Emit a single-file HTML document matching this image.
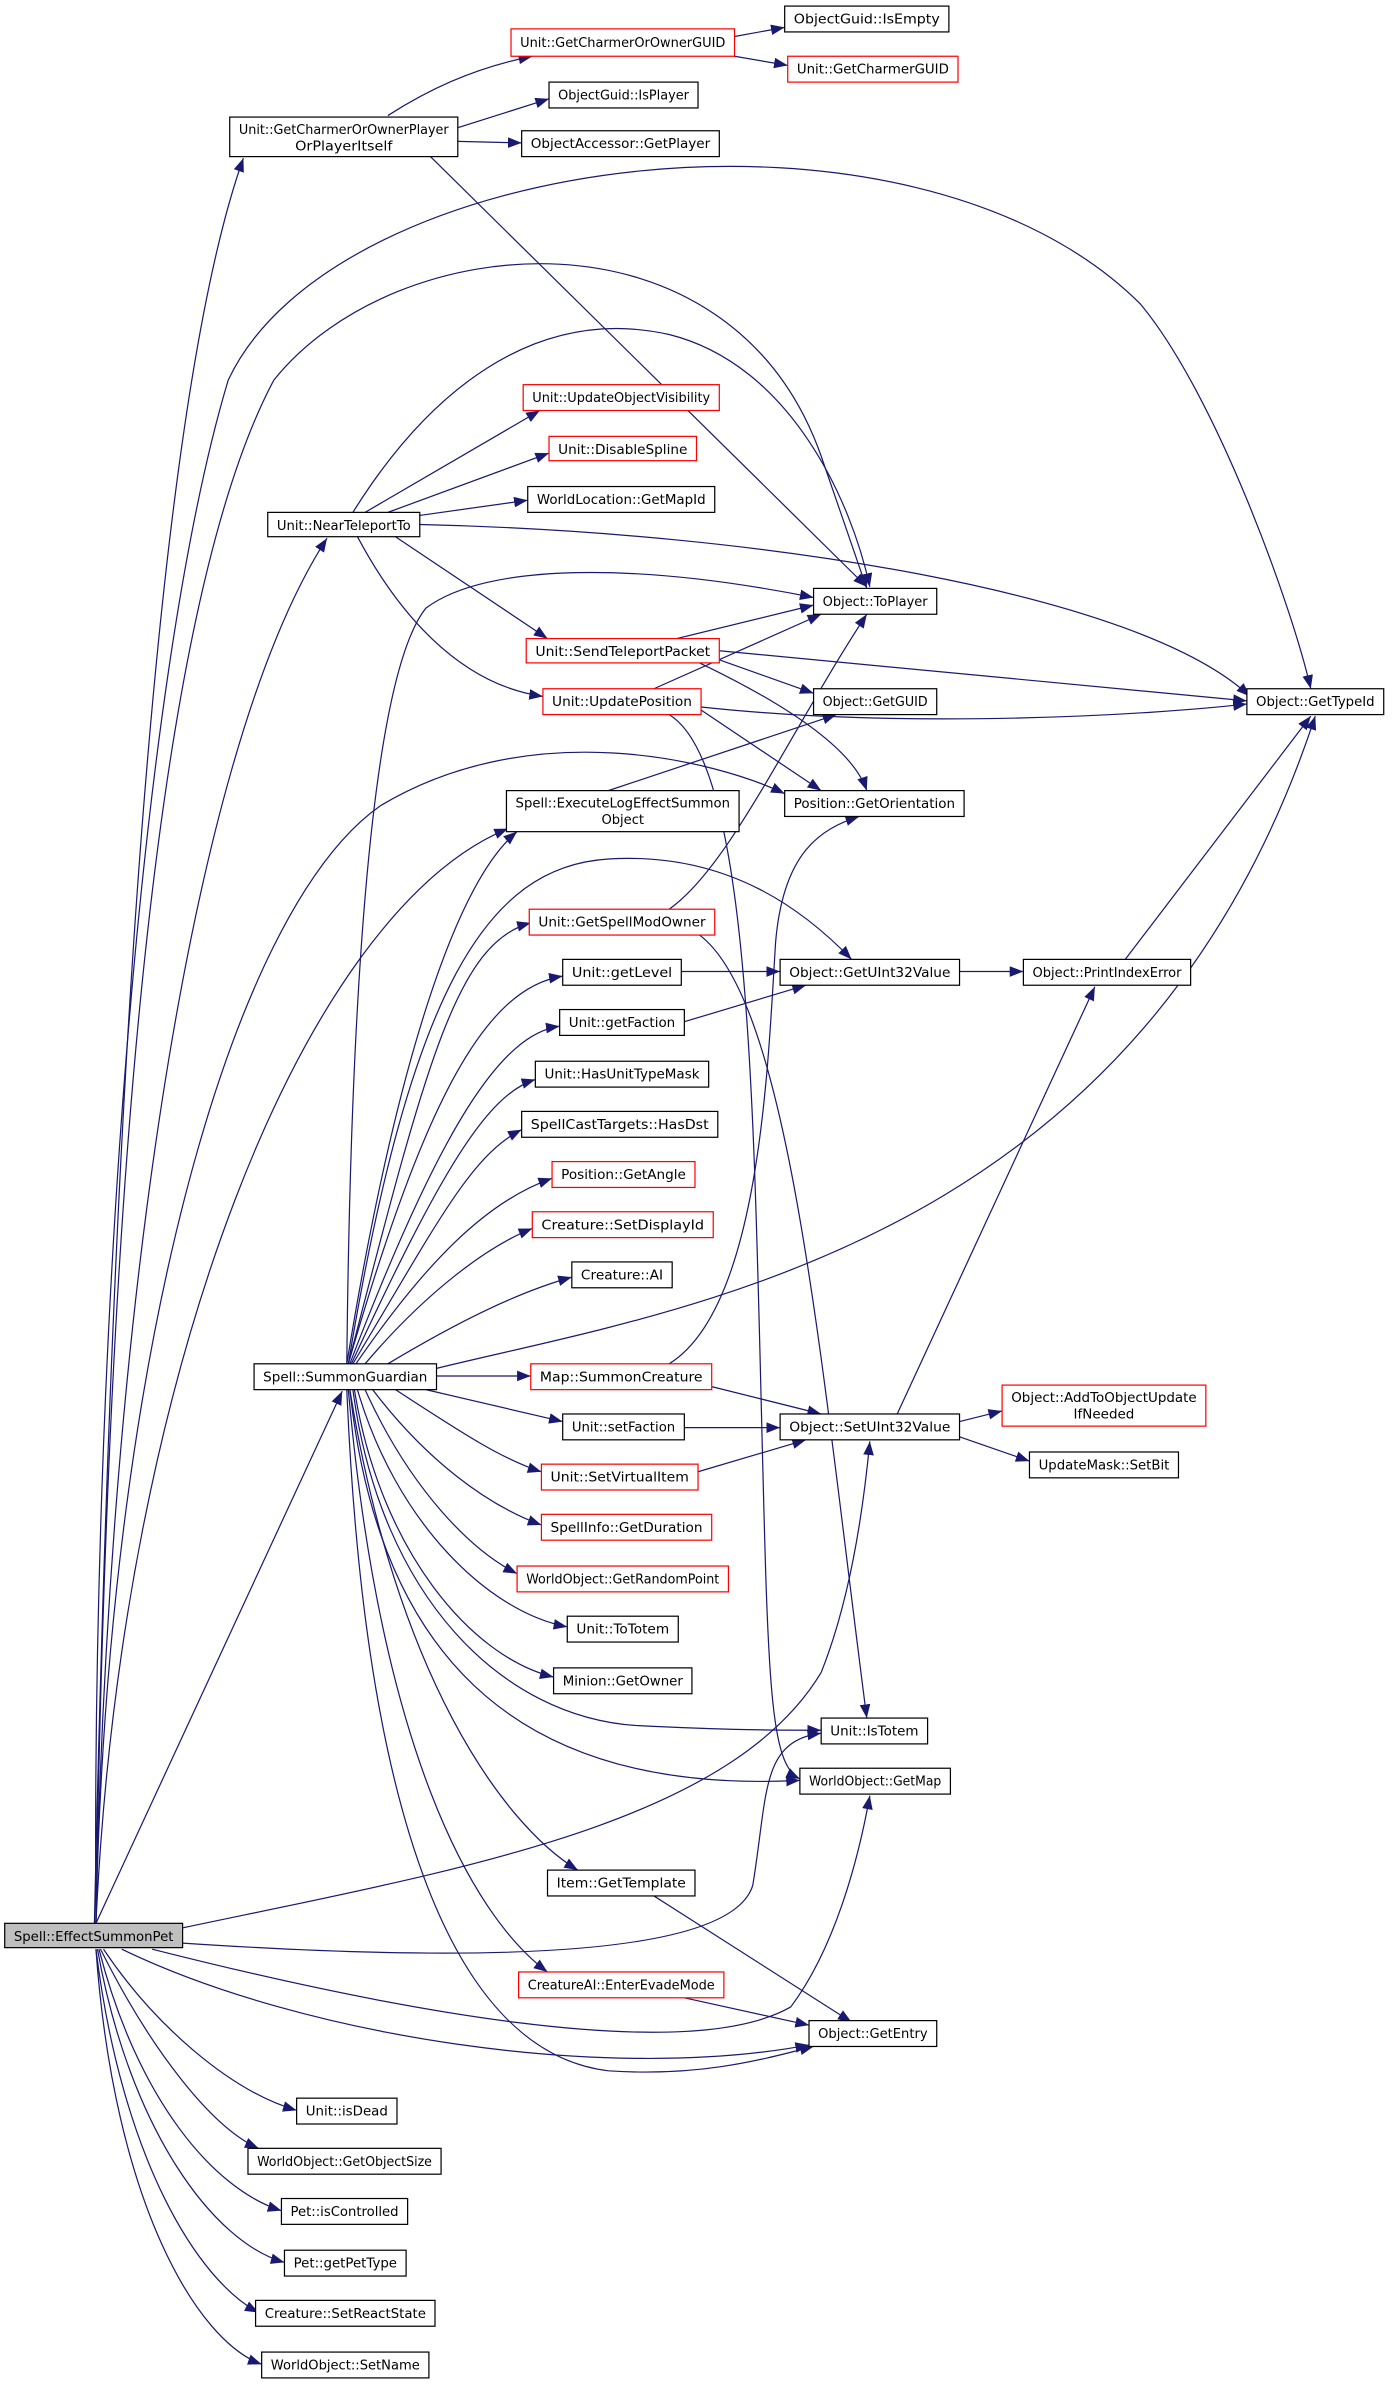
<!DOCTYPE html>
<html><head><meta charset="utf-8"><style>
html,body{margin:0;padding:0;background:#fff;}
svg{display:block;}
text{font-family:"DejaVu Sans","Liberation Sans",sans-serif;font-size:8.5px;fill:#000;}
.n{fill:#fff;stroke:#000;stroke-width:0.8;}
.r{fill:#fff;stroke:#ff0000;stroke-width:0.8;}
.e{fill:none;stroke:#191970;stroke-width:0.8;marker-end:url(#a);}
</style></head><body>
<svg width="1393" height="2384" viewBox="0 0 916 1568" xmlns="http://www.w3.org/2000/svg">
<defs><marker id="a" markerUnits="userSpaceOnUse" markerWidth="10" markerHeight="8" refX="9" refY="3.5" orient="auto"><path d="M0,0 L9,3.5 L0,7 z" fill="#191970"/></marker></defs>
<g>
<path class="e" d="M62,1265 C70,900 90,300 160,104"/>
<path class="e" d="M63,1265 C60,900 90,450 150,250 C220,100 600,50 750,200 C800,260 850,400 862,453"/>
<path class="e" d="M63,1265 C70,800 100,400 180,250 C260,150 480,130 540,300 L570,387"/>
<path class="e" d="M63,1265 C70,900 120,500 215,354"/>
<path class="e" d="M63,1265 C70,900 150,600 250,530 C350,470 470,500 516,522"/>
<path class="e" d="M63,1265 C80,900 200,600 334,545"/>
<path class="e" d="M63,1265 L225,915"/>
<path class="e" d="M120,1268 C300,1230 480,1200 540,1100 C560,1050 568,990 572,948"/>
<path class="e" d="M120,1278 C300,1290 480,1290 495,1240 C505,1180 500,1145 540,1140"/>
<path class="e" d="M100,1282 C250,1320 450,1360 520,1320 C550,1280 565,1220 572,1181"/>
<path class="e" d="M80,1282 C200,1340 400,1370 532,1345"/>
<path class="e" d="M68,1282 C100,1330 150,1375 195,1388"/>
<path class="e" d="M66,1282 C100,1350 140,1400 170,1413"/>
<path class="e" d="M65,1282 C90,1380 140,1440 185,1454"/>
<path class="e" d="M64,1282 C85,1400 140,1475 187,1488"/>
<path class="e" d="M63,1282 C80,1420 130,1500 170,1521"/>
<path class="e" d="M63,1282 C75,1450 130,1540 172,1555"/>
<path class="e" d="M255,76 C280,60 310,45 350,37"/>
<path class="e" d="M301,84 L361,65"/>
<path class="e" d="M301,93 L343,94"/>
<path class="e" d="M283,103 L570,386"/>
<path class="e" d="M483,24 L516,18"/>
<path class="e" d="M483,37 L518,43"/>
<path class="e" d="M240,337 L355,270"/>
<path class="e" d="M255,337 L361,298"/>
<path class="e" d="M276,339 L347,329"/>
<path class="e" d="M232,337 C280,260 350,200 440,220 C520,240 560,330 572,386"/>
<path class="e" d="M276,345 C500,350 750,390 822,458"/>
<path class="e" d="M260,353 L360,420"/>
<path class="e" d="M235,353 C260,400 300,450 357,458"/>
<path class="e" d="M445,420 L535,398"/>
<path class="e" d="M473,428 L820,461"/>
<path class="e" d="M473,434 L535,456"/>
<path class="e" d="M460,436 C510,460 560,490 570,520"/>
<path class="e" d="M430,453 L540,404"/>
<path class="e" d="M461,465 C600,480 760,470 820,463"/>
<path class="e" d="M461,467 L540,520"/>
<path class="e" d="M440,470 C490,500 495,700 500,900 C505,1100 505,1160 526,1170"/>
<path class="e" d="M400,520 L550,470"/>
<path class="e" d="M440,598 C480,570 520,480 570,404"/>
<path class="e" d="M460,615 C520,660 540,900 570,1130"/>
<path class="e" d="M448,639 L513,639"/>
<path class="e" d="M450,672 L530,648"/>
<path class="e" d="M631,639 L673,639"/>
<path class="e" d="M740,631 L862,471"/>
<path class="e" d="M590,930 L720,649"/>
<path class="e" d="M631,935 L659,928"/>
<path class="e" d="M631,945 L677,961"/>
<path class="e" d="M468,912 L540,930"/>
<path class="e" d="M440,897 C500,860 505,700 510,620 C515,560 540,545 565,537"/>
<path class="e" d="M450,939 L513,939"/>
<path class="e" d="M459,968 L530,947"/>
<path class="e" d="M430,1247 L560,1330"/>
<path class="e" d="M450,1314 L532,1332"/>
<path class="e" d="M228,897 C230,700 240,450 280,400 C320,370 420,370 535,393"/>
<path class="e" d="M287,900 C450,860 750,820 865,471"/>
<path class="e" d="M228,897 C260,700 300,580 340,547"/>
<path class="e" d="M229,897 C280,700 300,620 349,607"/>
<path class="e" d="M229,897 C270,650 320,570 400,565 C480,560 530,600 560,631"/>
<path class="e" d="M229,897 C280,720 320,650 370,642"/>
<path class="e" d="M230,897 C290,740 330,680 368,675"/>
<path class="e" d="M231,897 C290,770 320,720 352,710"/>
<path class="e" d="M232,897 C290,800 310,760 343,743"/>
<path class="e" d="M234,897 C280,830 320,790 363,775"/>
<path class="e" d="M240,897 C280,850 320,820 350,808"/>
<path class="e" d="M255,897 C300,870 340,850 376,840"/>
<path class="e" d="M287,905 L349,905"/>
<path class="e" d="M280,914 L370,935"/>
<path class="e" d="M260,914 C300,940 330,960 356,968"/>
<path class="e" d="M245,914 C280,960 320,990 356,1003"/>
<path class="e" d="M240,914 C270,980 310,1020 340,1035"/>
<path class="e" d="M235,914 C260,1000 320,1060 373,1070"/>
<path class="e" d="M233,914 C250,1020 310,1090 364,1103"/>
<path class="e" d="M232,914 C250,1050 330,1130 420,1135 C480,1138 510,1138 540,1138"/>
<path class="e" d="M230,914 C250,1100 350,1180 526,1171"/>
<path class="e" d="M230,914 C260,1100 330,1200 380,1230"/>
<path class="e" d="M229,914 C250,1150 310,1260 360,1297"/>
<path class="e" d="M228,914 C240,1200 300,1350 400,1362 C460,1366 500,1355 535,1346"/>
</g>
<g text-anchor="middle">
<rect x="3" y="1265" width="117" height="16" fill="#bfbfbf" stroke="#000" stroke-width="0.8"/><text x="61.5" y="1276.5" textLength="105" lengthAdjust="spacingAndGlyphs">Spell::EffectSummonPet</text>
<rect class="n" x="151" y="77" width="150" height="26"/><text x="226" y="88" textLength="138" lengthAdjust="spacingAndGlyphs">Unit::GetCharmerOrOwnerPlayer</text><text x="226" y="99" textLength="64" lengthAdjust="spacingAndGlyphs">OrPlayerItself</text>
<rect class="r" x="336" y="19" width="147" height="18"/><text x="409.5" y="31" textLength="135" lengthAdjust="spacingAndGlyphs">Unit::GetCharmerOrOwnerGUID</text>
<rect class="n" x="516" y="4" width="108" height="17"/><text x="570" y="15.5" textLength="96" lengthAdjust="spacingAndGlyphs">ObjectGuid::IsEmpty</text>
<rect class="r" x="518" y="37" width="112" height="17"/><text x="574" y="48.5" textLength="100" lengthAdjust="spacingAndGlyphs">Unit::GetCharmerGUID</text>
<rect class="n" x="361" y="54" width="98" height="17"/><text x="410" y="65.5" textLength="86" lengthAdjust="spacingAndGlyphs">ObjectGuid::IsPlayer</text>
<rect class="n" x="343" y="86" width="130" height="17"/><text x="408" y="97.5" textLength="118" lengthAdjust="spacingAndGlyphs">ObjectAccessor::GetPlayer</text>
<rect class="n" x="176" y="337" width="100" height="16"/><text x="226" y="348.5" textLength="88" lengthAdjust="spacingAndGlyphs">Unit::NearTeleportTo</text>
<rect class="r" x="344" y="253" width="129" height="17"/><text x="408.5" y="264.5" textLength="117" lengthAdjust="spacingAndGlyphs">Unit::UpdateObjectVisibility</text>
<rect class="r" x="361" y="287" width="97" height="16"/><text x="409.5" y="298.5" textLength="85" lengthAdjust="spacingAndGlyphs">Unit::DisableSpline</text>
<rect class="n" x="347" y="320" width="123" height="17"/><text x="408.5" y="331.5" textLength="111" lengthAdjust="spacingAndGlyphs">WorldLocation::GetMapId</text>
<rect class="n" x="535" y="387" width="81" height="17"/><text x="575.5" y="398.5" textLength="69" lengthAdjust="spacingAndGlyphs">Object::ToPlayer</text>
<rect class="r" x="346" y="420" width="127" height="16"/><text x="409.5" y="431.5" textLength="115" lengthAdjust="spacingAndGlyphs">Unit::SendTeleportPacket</text>
<rect class="n" x="535" y="453" width="81" height="17"/><text x="575.5" y="464.5" textLength="69" lengthAdjust="spacingAndGlyphs">Object::GetGUID</text>
<rect class="r" x="357" y="453" width="104" height="17"/><text x="409" y="464.5" textLength="92" lengthAdjust="spacingAndGlyphs">Unit::UpdatePosition</text>
<rect class="n" x="820" y="453" width="90" height="17"/><text x="865" y="464.5" textLength="78" lengthAdjust="spacingAndGlyphs">Object::GetTypeId</text>
<rect class="n" x="333" y="520" width="153" height="27"/><text x="409.5" y="531" textLength="141" lengthAdjust="spacingAndGlyphs">Spell::ExecuteLogEffectSummon</text><text x="409.5" y="542" textLength="28" lengthAdjust="spacingAndGlyphs">Object</text>
<rect class="n" x="516" y="520" width="118" height="17"/><text x="575" y="531.5" textLength="106" lengthAdjust="spacingAndGlyphs">Position::GetOrientation</text>
<rect class="r" x="348" y="598" width="122" height="17"/><text x="409" y="609.5" textLength="110" lengthAdjust="spacingAndGlyphs">Unit::GetSpellModOwner</text>
<rect class="n" x="370" y="631" width="78" height="17"/><text x="409" y="642.5" textLength="66" lengthAdjust="spacingAndGlyphs">Unit::getLevel</text>
<rect class="n" x="513" y="631" width="118" height="17"/><text x="572" y="642.5" textLength="106" lengthAdjust="spacingAndGlyphs">Object::GetUInt32Value</text>
<rect class="n" x="673" y="631" width="110" height="17"/><text x="728" y="642.5" textLength="98" lengthAdjust="spacingAndGlyphs">Object::PrintIndexError</text>
<rect class="n" x="368" y="664" width="82" height="17"/><text x="409" y="675.5" textLength="70" lengthAdjust="spacingAndGlyphs">Unit::getFaction</text>
<rect class="n" x="352" y="698" width="114" height="17"/><text x="409" y="709.5" textLength="102" lengthAdjust="spacingAndGlyphs">Unit::HasUnitTypeMask</text>
<rect class="n" x="343" y="731" width="129" height="17"/><text x="407.5" y="742.5" textLength="117" lengthAdjust="spacingAndGlyphs">SpellCastTargets::HasDst</text>
<rect class="r" x="363" y="764" width="94" height="17"/><text x="410" y="775.5" textLength="82" lengthAdjust="spacingAndGlyphs">Position::GetAngle</text>
<rect class="r" x="350" y="797" width="119" height="17"/><text x="409.5" y="808.5" textLength="107" lengthAdjust="spacingAndGlyphs">Creature::SetDisplayId</text>
<rect class="n" x="376" y="830" width="66" height="17"/><text x="409" y="841.5" textLength="54" lengthAdjust="spacingAndGlyphs">Creature::AI</text>
<rect class="n" x="167" y="897" width="120" height="17"/><text x="227" y="908.5" textLength="108" lengthAdjust="spacingAndGlyphs">Spell::SummonGuardian</text>
<rect class="r" x="349" y="897" width="119" height="17"/><text x="408.5" y="908.5" textLength="107" lengthAdjust="spacingAndGlyphs">Map::SummonCreature</text>
<rect class="r" x="659" y="911" width="134" height="27"/><text x="726" y="922" textLength="122" lengthAdjust="spacingAndGlyphs">Object::AddToObjectUpdate</text><text x="726" y="933" textLength="40" lengthAdjust="spacingAndGlyphs">IfNeeded</text>
<rect class="n" x="513" y="930" width="118" height="17"/><text x="572" y="941.5" textLength="106" lengthAdjust="spacingAndGlyphs">Object::SetUInt32Value</text>
<rect class="n" x="370" y="930" width="80" height="17"/><text x="410" y="941.5" textLength="68" lengthAdjust="spacingAndGlyphs">Unit::setFaction</text>
<rect class="n" x="677" y="955" width="98" height="17"/><text x="726" y="966.5" textLength="86" lengthAdjust="spacingAndGlyphs">UpdateMask::SetBit</text>
<rect class="r" x="356" y="963" width="103" height="17"/><text x="407.5" y="974.5" textLength="91" lengthAdjust="spacingAndGlyphs">Unit::SetVirtualItem</text>
<rect class="r" x="356" y="996" width="112" height="17"/><text x="412" y="1007.5" textLength="100" lengthAdjust="spacingAndGlyphs">SpellInfo::GetDuration</text>
<rect class="r" x="340" y="1030" width="139" height="17"/><text x="409.5" y="1041.5" textLength="127" lengthAdjust="spacingAndGlyphs">WorldObject::GetRandomPoint</text>
<rect class="n" x="373" y="1063" width="73" height="17"/><text x="409.5" y="1074.5" textLength="61" lengthAdjust="spacingAndGlyphs">Unit::ToTotem</text>
<rect class="n" x="364" y="1097" width="91" height="17"/><text x="409.5" y="1108.5" textLength="79" lengthAdjust="spacingAndGlyphs">Minion::GetOwner</text>
<rect class="n" x="540" y="1130" width="70" height="17"/><text x="575" y="1141.5" textLength="58" lengthAdjust="spacingAndGlyphs">Unit::IsTotem</text>
<rect class="n" x="526" y="1163" width="99" height="17"/><text x="575.5" y="1174.5" textLength="87" lengthAdjust="spacingAndGlyphs">WorldObject::GetMap</text>
<rect class="n" x="360" y="1230" width="97" height="17"/><text x="408.5" y="1241.5" textLength="85" lengthAdjust="spacingAndGlyphs">Item::GetTemplate</text>
<rect class="r" x="341" y="1297" width="135" height="17"/><text x="408.5" y="1308.5" textLength="123" lengthAdjust="spacingAndGlyphs">CreatureAI::EnterEvadeMode</text>
<rect class="n" x="532" y="1329" width="84" height="17"/><text x="574" y="1340.5" textLength="72" lengthAdjust="spacingAndGlyphs">Object::GetEntry</text>
<rect class="n" x="195" y="1380" width="66" height="17"/><text x="228" y="1391.5" textLength="54" lengthAdjust="spacingAndGlyphs">Unit::isDead</text>
<rect class="n" x="163" y="1413" width="127" height="17"/><text x="226.5" y="1424.5" textLength="115" lengthAdjust="spacingAndGlyphs">WorldObject::GetObjectSize</text>
<rect class="n" x="185" y="1446" width="83" height="17"/><text x="226.5" y="1457.5" textLength="71" lengthAdjust="spacingAndGlyphs">Pet::isControlled</text>
<rect class="n" x="187" y="1480" width="80" height="17"/><text x="227" y="1491.5" textLength="68" lengthAdjust="spacingAndGlyphs">Pet::getPetType</text>
<rect class="n" x="168" y="1513" width="118" height="17"/><text x="227" y="1524.5" textLength="106" lengthAdjust="spacingAndGlyphs">Creature::SetReactState</text>
<rect class="n" x="172" y="1547" width="110" height="17"/><text x="227" y="1558.5" textLength="98" lengthAdjust="spacingAndGlyphs">WorldObject::SetName</text>
</g>
</svg>
</body></html>
